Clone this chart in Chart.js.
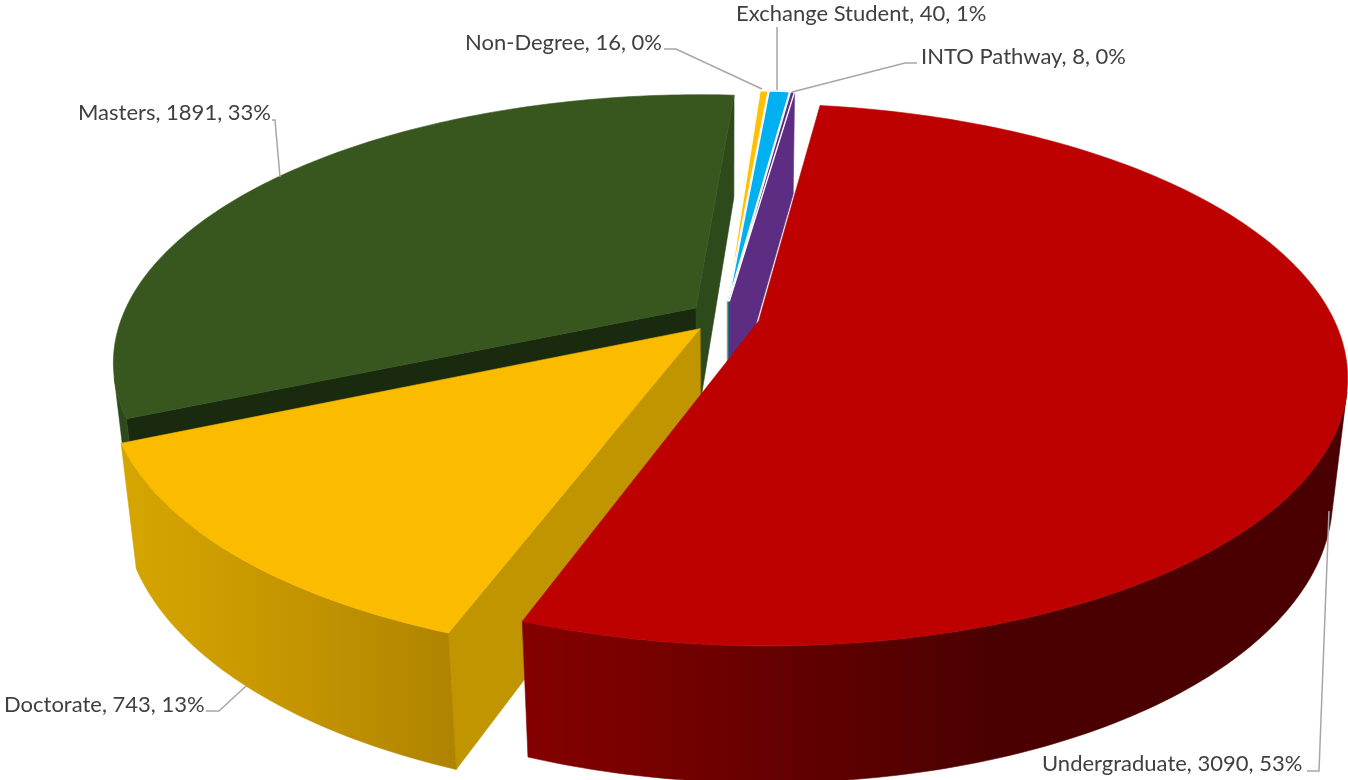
<!DOCTYPE html>
<html>
<head>
<meta charset="utf-8">
<title>Enrolment by student type</title>
<script src="https://cdn.jsdelivr.net/npm/chart.js@4/dist/chart.umd.min.js"></script>
<style>
  html, body { margin: 0; padding: 0; background: #fff; overflow: hidden; }
  canvas { display: block; }
</style>
</head>
<body>
<canvas id="pieChart" width="1348" height="780"></canvas>
<script>
// Chart data
const categories = ['Undergraduate', 'Doctorate', 'Masters', 'Non-Degree', 'Exchange Student', 'INTO Pathway'];
const students = [3090, 743, 1891, 16, 40, 8];
const sliceColors = ['#BD0000', '#FBBC00', '#38571F', '#FFC000', '#00B0F0', '#5C2D82'];

// Side colours of each slice: [x on screen, colour] stops for the rim, flat colour for the cuts
const rimStops = [
  [[522, '#850000'], [700, '#700000'], [830, '#5E0000'], [1000, '#4A0000']],
  [[136, '#D4A500'], [300, '#C49400'], [448, '#B08400']],
  [[100, '#2D4A1B']],
  [[0, '#BE9000']],
  [[0, '#0078AA']],
  [[0, '#5C2D82']]
];
const cutColors = ['#7A0000', '#C19500', '#1A2A0E', '#BE9000', '#0078AA', '#5C2D82'];
const cutColorsEnd = ['#7A0000', '#C19500', '#2D4A1B', '#BE9000', '#0078AA', '#5C2D82'];

// Where the text labels sit and how their leader lines run
const labelPos = [[1042, 771], [4, 712], [78, 120], [465, 50], [736, 21], [921, 64]];
const leaderLines = [
  [[1307, 771], [1319, 771], [1329, 511]],
  [[206, 711], [219, 711], [246, 686]],
  [[272, 120], [275, 120], [280, 177]],
  [[664, 49], [676, 49], [762, 89]],
  [[777, 27], [777, 90]],
  [[917, 63], [905, 63], [792, 92]]
];

// Camera for the tilted pie
const CX = 724.5, CY = 317;
const SCALE = 574, DIST = 4.5, TILT = 26.8 * Math.PI / 180;
const EXPLODE = 0.0613, HEIGHT = 0.235;

function project(x, y, z) {
  const d = DIST - (y * Math.cos(TILT) + z * Math.sin(TILT));
  const f = SCALE * DIST;
  return [CX + f * x / d, CY + f * (y * Math.sin(TILT) - z * Math.cos(TILT)) / d];
}

function fillPoly(ctx, pts, color) {
  ctx.beginPath();
  pts.forEach((p, i) => i ? ctx.lineTo(p[0], p[1]) : ctx.moveTo(p[0], p[1]));
  ctx.closePath();
  ctx.fillStyle = color;
  ctx.strokeStyle = color;
  ctx.lineWidth = 0.6;
  ctx.fill();
  ctx.stroke();
}

function polyArea(pts) {
  let a = 0;
  pts.forEach((p, i) => {
    const q = pts[(i + 1) % pts.length];
    a += p[0] * q[1] - q[0] * p[1];
  });
  return a / 2;
}

// left to right shading along the rim
function rimGradient(ctx, stops) {
  if (stops.length < 2) return stops[0][1];
  const x0 = stops[0][0], x1 = stops[stops.length - 1][0];
  const grad = ctx.createLinearGradient(x0, 0, x1, 0);
  stops.forEach(s => grad.addColorStop((s[0] - x0) / (x1 - x0), s[1]));
  return grad;
}

function drawSlice(ctx, arc, i) {
  const mid = (arc.startAngle + arc.endAngle) / 2;
  const ox = EXPLODE * Math.cos(mid), oy = EXPLODE * Math.sin(mid);
  const steps = Math.max(2, Math.ceil((arc.endAngle - arc.startAngle) * 60));
  const top = [], bottom = [];
  for (let s = 0; s <= steps; s++) {
    const a = arc.startAngle + (arc.endAngle - arc.startAngle) * s / steps;
    top.push(project(ox + Math.cos(a), oy + Math.sin(a), 0));
    bottom.push(project(ox + Math.cos(a), oy + Math.sin(a), -HEIGHT));
  }
  const apexTop = project(ox, oy, 0);
  const apexBottom = project(ox, oy, -HEIGHT);

  // only the sides turned towards the camera get painted
  const cutA = [apexTop, top[0], bottom[0], apexBottom];
  if (polyArea(cutA) < 0) fillPoly(ctx, cutA, cutColors[i]);
  const cutB = [apexTop, apexBottom, bottom[steps], top[steps]];
  if (polyArea(cutB) < 0) fillPoly(ctx, cutB, cutColorsEnd[i]);

  // rim as one shape, so the strips leave no seams
  const rimTop = [], rimBottom = [];
  for (let s = 0; s < steps; s++) {
    const quad = [top[s], bottom[s], bottom[s + 1], top[s + 1]];
    if (polyArea(quad) > 0) {
      if (!rimTop.length) {
        rimTop.push(top[s]);
        rimBottom.push(bottom[s]);
      }
      rimTop.push(top[s + 1]);
      rimBottom.push(bottom[s + 1]);
    }
  }
  if (rimTop.length) fillPoly(ctx, rimTop.concat(rimBottom.reverse()), rimGradient(ctx, rimStops[i]));

  // top face
  const face = [apexTop].concat(top);
  fillPoly(ctx, face, sliceColors[i]);
  if (students[i] < 100) {
    ctx.strokeStyle = '#fff';
    ctx.lineWidth = 1.4;
    ctx.beginPath();
    face.forEach((p, k) => k ? ctx.lineTo(p[0], p[1]) : ctx.moveTo(p[0], p[1]));
    ctx.closePath();
    ctx.stroke();
  }
}

const pie3d = {
  id: 'pie3d',
  beforeDatasetsDraw(chart) {
    const ctx = chart.ctx;
    const arcs = chart.getDatasetMeta(0).data;
    // back to front
    [2, 3, 4, 5, 1, 0].forEach(i => drawSlice(ctx, arcs[i], i));
    return false;
  },
  afterDraw(chart) {
    const ctx = chart.ctx;
    const total = students.reduce((a, b) => a + b, 0);
    ctx.save();
    ctx.strokeStyle = '#A6A6A6';
    ctx.lineWidth = 1.5;
    leaderLines.forEach(line => {
      ctx.beginPath();
      line.forEach((p, k) => k ? ctx.lineTo(p[0], p[1]) : ctx.moveTo(p[0], p[1]));
      ctx.stroke();
    });
    ctx.fillStyle = '#404040';
    ctx.font = '22px Lato';
    ctx.textBaseline = 'alphabetic';
    categories.forEach((name, i) => {
      const pct = Math.round(students[i] / total * 100);
      ctx.fillText(name + ', ' + students[i] + ', ' + pct + '%', labelPos[i][0], labelPos[i][1]);
    });
    ctx.restore();
  }
};

new Chart(document.getElementById('pieChart'), {
  type: 'pie',
  data: {
    labels: categories,
    datasets: [{ data: students, backgroundColor: sliceColors, borderWidth: 0 }]
  },
  options: {
    responsive: false,
    animation: false,
    rotation: 8,
    plugins: { legend: { display: false }, tooltip: { enabled: false } }
  },
  plugins: [pie3d]
});
</script>
</body>
</html>
